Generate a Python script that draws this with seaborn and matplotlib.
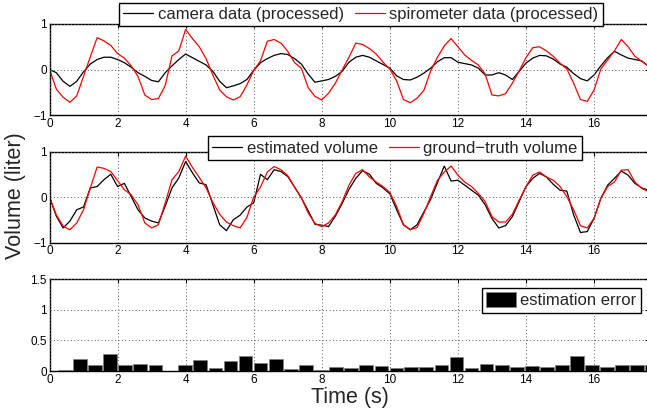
import numpy as np
import pandas as pd
import matplotlib
matplotlib.use('Agg')
import matplotlib.pyplot as plt
import seaborn as sns

# sample times (s), 0.2 s grid
time = np.round(np.arange(0, 17.61, 0.2), 1)

camera = [0, -0.07, -0.26, -0.37, -0.26, -0.05, 0.12, 0.22, 0.27, 0.27,
          0.22, 0.15, 0.05, -0.07, -0.15, -0.24, -0.27, -0.07, 0.08, 0.22,
          0.34, 0.26, 0.18, 0.10, -0.04, -0.26, -0.40, -0.36, -0.31, -0.22,
          -0.02, 0.15, 0.24, 0.31, 0.35, 0.33, 0.24, 0.12, -0.10, -0.28,
          -0.25, -0.22, -0.15, -0.04, 0.16, 0.27, 0.31, 0.27, 0.19, 0.11,
          0.03, -0.14, -0.22, -0.23, -0.17, -0.08, 0.03, 0.17, 0.26, 0.26,
          0.16, 0.13, 0.10, 0.03, -0.12, -0.12, -0.07, -0.12, -0.22, -0.04,
          0.14, 0.25, 0.31, 0.30, 0.23, 0.12, 0.05, -0.09, -0.20, -0.25,
          -0.12, 0.08, 0.26, 0.40, 0.32, 0.25, 0.22, 0.19, 0.07]

spirometer = [0, -0.43, -0.61, -0.72, -0.58, -0.15, 0.28, 0.70, 0.63, 0.53,
              0.35, 0.25, 0.08, -0.15, -0.56, -0.66, -0.64, -0.35, 0.30, 0.41,
              0.88, 0.68, 0.50, 0.24, -0.12, -0.45, -0.60, -0.67, -0.60, -0.34,
              -0.02, 0.19, 0.62, 0.66, 0.58, 0.40, 0.15, 0.03, -0.40, -0.59,
              -0.67, -0.52, -0.30, -0.01, 0.27, 0.58, 0.55, 0.46, 0.34, 0.16,
              0.01, -0.25, -0.66, -0.73, -0.63, -0.46, -0.03, 0.27, 0.52, 0.68,
              0.50, 0.32, 0.20, 0.10, -0.10, -0.56, -0.58, -0.53, -0.30, -0.03,
              0.26, 0.48, 0.50, 0.41, 0.29, 0.14, 0.01, -0.30, -0.66, -0.70,
              -0.45, 0.01, 0.21, 0.41, 0.66, 0.50, 0.29, 0.18, 0.08]

estimated = [0, -0.42, -0.68, -0.53, -0.28, -0.22, 0.20, 0.23, 0.38, 0.50,
             0.23, 0.30, 0.01, -0.28, -0.46, -0.53, -0.57, -0.20, 0.20, 0.42,
             0.78, 0.53, 0.31, 0.27, -0.17, -0.61, -0.74, -0.50, -0.40, -0.22,
             -0.13, 0.50, 0.38, 0.60, 0.56, 0.45, 0.22, -0.02, -0.30, -0.60,
             -0.62, -0.65, -0.42, -0.14, 0.17, 0.41, 0.58, 0.50, 0.30, 0.20,
             0.07, -0.28, -0.61, -0.72, -0.61, -0.33, -0.05, 0.32, 0.68, 0.35,
             0.37, 0.26, 0.15, 0.04, -0.17, -0.47, -0.68, -0.63, -0.43, -0.10,
             0.23, 0.41, 0.52, 0.44, 0.28, 0.15, 0.13, -0.39, -0.78, -0.76,
             -0.47, -0.03, 0.26, 0.41, 0.57, 0.48, 0.30, 0.20, 0.15]

ground_truth = [0, -0.39, -0.64, -0.72, -0.57, -0.28, 0.20, 0.66, 0.63, 0.56,
                0.36, 0.16, 0.05, -0.17, -0.57, -0.68, -0.61, -0.13, 0.38, 0.56,
                0.90, 0.65, 0.43, 0.20, -0.12, -0.38, -0.55, -0.63, -0.68, -0.45,
                0.00, 0.22, 0.55, 0.67, 0.60, 0.47, 0.22, -0.02, -0.35, -0.58,
                -0.65, -0.57, -0.39, -0.10, 0.26, 0.52, 0.60, 0.44, 0.33, 0.23,
                0.10, -0.21, -0.61, -0.72, -0.67, -0.36, 0.01, 0.37, 0.55, 0.68,
                0.48, 0.33, 0.23, 0.08, -0.10, -0.43, -0.55, -0.55, -0.38, -0.07,
                0.23, 0.48, 0.55, 0.44, 0.37, 0.23, 0.01, -0.28, -0.63, -0.68,
                -0.47, -0.03, 0.23, 0.33, 0.59, 0.60, 0.33, 0.19, 0.12]

# estimation error per window
err_time = [0.45, 0.89, 1.33, 1.78, 2.22, 2.66, 3.11, 3.55, 3.99, 4.43,
            4.88, 5.32, 5.76, 6.20, 6.65, 7.09, 7.53, 7.97, 8.42, 8.86,
            9.30, 9.75, 10.19, 10.63, 11.07, 11.52, 11.96, 12.40, 12.84, 13.29,
            13.73, 14.17, 14.61, 15.06, 15.50, 15.94, 16.38, 16.83, 17.27, 17.71]
err_value = [0.015, 0.20, 0.10, 0.27, 0.09, 0.12, 0.10, 0.005, 0.09, 0.18,
             0.055, 0.155, 0.25, 0.13, 0.19, 0.035, 0.10, 0.01, 0.06, 0.05,
             0.09, 0.08, 0.055, 0.06, 0.06, 0.09, 0.23, 0.045, 0.115, 0.09,
             0.07, 0.08, 0.07, 0.105, 0.25, 0.105, 0.065, 0.105, 0.09, 0.09]

sns.set_theme(style='white')
plt.rcParams['font.family'] = ['Liberation Sans', 'DejaVu Sans']
plt.rcParams['axes.unicode_minus'] = True

fig = plt.figure(figsize=(6.47, 4.13), dpi=100)
W, H = 647, 413
left = 49.5 / W
width = (648.5 - 49.5) / W
ax1 = fig.add_axes([left, 1 - 115 / H, width, 91 / H])
ax2 = fig.add_axes([left, 1 - 242.5 / H, width, 91 / H])
ax3 = fig.add_axes([left, 1 - 371 / H, width, 92 / H])

top = pd.DataFrame({'time': np.concatenate([time, time]),
                    'volume': camera + spirometer,
                    'series': ['camera data (processed)'] * len(time)
                    + ['spirometer data (processed)'] * len(time)})
mid = pd.DataFrame({'time': np.concatenate([time, time]),
                    'volume': estimated + ground_truth,
                    'series': ['estimated volume'] * len(time)
                    + ['ground\u2212truth volume'] * len(time)})

sns.lineplot(data=top, x='time', y='volume', hue='series', ax=ax1,
             palette=['black', 'red'], linewidth=0.9)
sns.lineplot(data=mid, x='time', y='volume', hue='series', ax=ax2,
             palette=['black', 'red'], linewidth=0.9)
ax3.bar(err_time, err_value, width=0.4, color='black', edgecolor='0.5',
        linewidth=0.5, label='estimation error', zorder=3)

for ax in (ax1, ax2, ax3):
    ax.set_xlim(0, 17.6)
    ax.set_xticks(range(0, 17, 2))
    ax.set_xlabel('')
    ax.set_ylabel('')
    ax.grid(True, linestyle=(0, (1, 2.5)), color='0.35', linewidth=0.7)
    ax.set_axisbelow(False)
    ax.tick_params(direction='in', top=True, right=True, length=3,
                   width=0.8, labelsize=8.5, pad=2, colors='black')
    for s in ax.spines.values():
        s.set_color('black')
        s.set_linewidth(1.0)

for ax in (ax1, ax2):
    ax.set_ylim(-1, 1)
    ax.set_yticks([-1, 0, 1])
ax3.set_ylim(0, 1.5)
ax3.set_yticks([0, 0.5, 1, 1.5])
ax3.set_yticklabels(['0', '0.5', '1', '1.5'])

leg_kw = dict(frameon=True, fancybox=False, edgecolor='black', framealpha=1,
              fontsize=12, borderaxespad=0, handlelength=1.8,
              handletextpad=0.25, borderpad=0.25, columnspacing=0.7)
h, l = ax1.get_legend_handles_labels()
lg = ax1.legend(h, l, loc='upper center', bbox_to_anchor=(0.52, 1.235),
                ncol=2, **leg_kw)
lg.get_frame().set_linewidth(1.0)
h, l = ax2.get_legend_handles_labels()
lg = ax2.legend(h, l, loc='upper center', bbox_to_anchor=(0.577, 1.165),
                ncol=2, **leg_kw)
lg.get_frame().set_linewidth(1.0)
lg = ax3.legend(loc='upper right', bbox_to_anchor=(0.987, 0.902),
                handleheight=1.0, **leg_kw)
lg.get_frame().set_linewidth(1.0)

fig.text(16 / W, 1 - 196 / H, 'Volume (liter)', rotation=90, ha='center',
         va='center', fontsize=15.5)
fig.text(350 / W, 1 - 397 / H, 'Time (s)', ha='center', va='center',
         fontsize=15.5)

fig.savefig('out.png', dpi=100)
